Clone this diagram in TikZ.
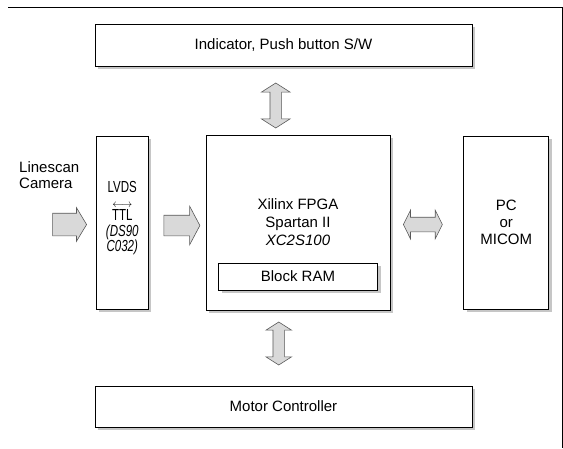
\documentclass[tikz,border=0pt]{standalone}
\usepackage{fontspec}
\setmainfont{Liberation Sans}
\newfontfamily\narrowfont[FakeStretch=0.72]{Liberation Sans}
\usetikzlibrary{shapes.arrows, shadows, positioning, calc}

\begin{document}
\begin{tikzpicture}[
        x=1pt, y=1pt,
        node distance=10pt,
        box/.style={draw, line width=0.7pt, fill=white, inner sep=0pt, align=center,
            font=\fontsize{15}{18}\selectfont,
            drop shadow={shadow xshift=3pt, shadow yshift=-3pt, fill=gray!45, opacity=1}},
        fatarr/.style={single arrow, draw=gray!70!black, fill=gray!30, line width=0.6pt,
            inner xsep=0pt, single arrow tip angle=118},
        dblarr/.style={double arrow, draw=gray!70!black, fill=gray!30, line width=0.6pt,
            inner xsep=0pt, double arrow tip angle=115}
        ]
        \useasboundingbox (0,0) rectangle (563,-448);
        % outer frame (top and right only)
        \draw[line width=0.8pt] (8,-7) -- (562,-7) -- (562,-448);

        \node[box, minimum width=184pt, minimum height=175pt] (fpga) at (298,-222.5)
            {Xilinx FPGA\\Spartan II\\\textit{XC2S100}};
        \node[box, minimum width=159pt, minimum height=27pt, above=20pt of fpga.south] (ram) {Block RAM};
        \node[box, minimum width=52pt, minimum height=173pt, left=57pt of fpga] (lvds) {};
        \node[align=center, inner sep=0pt, font=\narrowfont\fontsize{16}{15.5}\selectfont]
            (lvdstxt) at ($(lvds.center)+(0,4)$)
            {LVDS\\[-1pt]$\scriptstyle\longleftrightarrow$\\[-2pt]TTL\\\textit{(DS90}\\\textit{C032)}};
        \node[box, font=\fontsize{15}{17}\selectfont, minimum width=85pt, minimum height=173pt,
            right=73pt of fpga] (pc) {PC\\or\\MICOM};
        \node[box, minimum width=377pt, minimum height=42pt] (ind) at (283.5,-45) {Indicator, Push button S/W};
        \node[box, minimum width=377pt, minimum height=41pt] (motor) at (283.5,-406.5) {Motor Controller};
        \node[align=left, anchor=west, inner sep=0pt, font=\fontsize{15}{15.5}\selectfont]
            (cam) at (19,-175) {Linescan\\Camera};

        \node[fatarr, minimum height=34pt, inner ysep=11pt, single arrow head extend=5.5pt,
            left=9pt of lvds, yshift=-2pt] (camarr) {};
        \node[fatarr, minimum height=36pt, inner ysep=10pt, single arrow head extend=9pt,
            single arrow tip angle=124] (lvdsarr) at ($(lvds.east)!0.5!(fpga.west)+(2,-3)$) {};
        \node[dblarr, minimum height=39pt, inner ysep=7pt, double arrow head extend=7pt,
            double arrow tip angle=127] (pcarr) at ($(fpga.east)!0.5!(pc.west)+(-4,-2)$) {};
        \node[dblarr, rotate=90, minimum height=45pt, inner ysep=5.5pt, double arrow head extend=8.5pt]
            (indarr) at ($(ind.south)!0.5!(fpga.north)+(-15,-5)$) {};
        \node[dblarr, rotate=90, minimum height=43pt, inner ysep=5.5pt, double arrow head extend=7pt]
            (motarr) at ($(fpga.south)!0.5!(motor.north)+(-12,4.5)$) {};
    \end{tikzpicture}
\end{document}
